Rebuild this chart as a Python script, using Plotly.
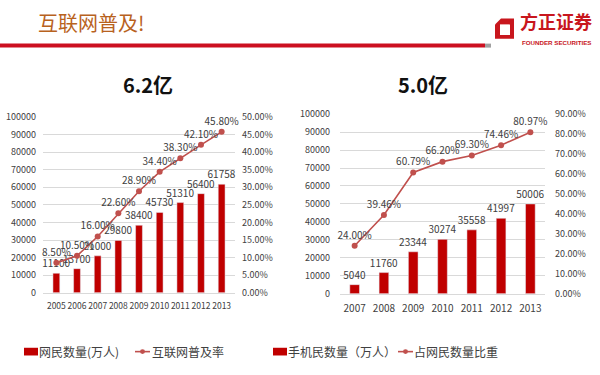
import plotly.graph_objects as go

# ---------------- data ----------------
years_net = ["2005", "2006", "2007", "2008", "2009", "2010", "2011", "2012", "2013"]
netizens = [11100, 13700, 21000, 29800, 38400, 45730, 51310, 56400, 61758]
penetration = [0.085, 0.105, 0.160, 0.226, 0.289, 0.344, 0.383, 0.421, 0.458]

years_mob = ["2007", "2008", "2009", "2010", "2011", "2012", "2013"]
mobile_users = [5040, 11760, 23344, 30274, 35558, 41997, 50006]
mobile_share = [0.2400, 0.3946, 0.6079, 0.6620, 0.6930, 0.7446, 0.8097]

page_title = "互联网普及!"
left_title = "6.2亿"
right_title = "5.0亿"
name_net = "网民数量(万人)"
name_pen = "互联网普及率"
name_mob = "手机民数量（万人）"
name_share = "占网民数量比重"

W, H = 600, 375
FONT = "Noto Sans CJK SC"
BAR_C = "#C00000"
LINE_C = "#C0504D"
TXT = "#404040"
GRID = "#D9D9D9"


def X(px):
    return px / W


def Y(py):
    return (H - py) / H


def pct_labels(vals):
    return [f"{v*100:.2f}%" for v in vals]


fig = go.Figure()

fig.add_trace(go.Bar(
    x=years_net, y=netizens, name=name_net, marker_color=BAR_C,
    text=[str(v) for v in netizens], textposition="outside",
    textfont=dict(size=10, color=TXT, family=FONT), cliponaxis=False,
    constraintext="none", xaxis="x", yaxis="y",
))
fig.add_trace(go.Scatter(
    x=years_net, y=penetration, name=name_pen, mode="lines+markers+text",
    line=dict(color=LINE_C, width=1.6), marker=dict(size=6, color=LINE_C),
    text=pct_labels(penetration), textposition="top center",
    textfont=dict(size=10, color=TXT, family=FONT), cliponaxis=False,
    xaxis="x", yaxis="y2",
))
fig.add_trace(go.Bar(
    x=years_mob, y=mobile_users, name=name_mob, marker_color=BAR_C,
    text=[str(v) for v in mobile_users], textposition="outside",
    textfont=dict(size=10, color=TXT, family=FONT), cliponaxis=False,
    constraintext="none", xaxis="x2", yaxis="y3",
))
fig.add_trace(go.Scatter(
    x=years_mob, y=mobile_share, name=name_share, mode="lines+markers+text",
    line=dict(color=LINE_C, width=1.6), marker=dict(size=6, color=LINE_C),
    text=pct_labels(mobile_share), textposition="top center",
    textfont=dict(size=10, color=TXT, family=FONT), cliponaxis=False,
    xaxis="x2", yaxis="y4",
))

tick_font = dict(size=9, color=TXT, family=FONT)
ly = [Y(296), Y(114)]
ry = [Y(297), Y(111)]

fig.update_layout(
    width=W, height=H, margin=dict(l=0, r=0, t=0, b=0),
    paper_bgcolor="white", plot_bgcolor="white",
    font=dict(family=FONT, color=TXT),
    bargap=0.67, showlegend=False,
    xaxis=dict(domain=[X(43), X(235)], anchor="y", type="category",
               showgrid=False, showline=True, linecolor=GRID, ticks="",
               tickangle=0, ticklabelstandoff=5,
               tickfont=dict(size=8.5, color=TXT, family=FONT)),
    yaxis=dict(domain=ly, anchor="x", range=[0, 100000], dtick=10000,
               tickformat="d", gridcolor=GRID, zeroline=False, ticks="",
               ticklabelstandoff=6, tickfont=tick_font),
    yaxis2=dict(anchor="x", overlaying="y", side="right", range=[0, 0.5],
                dtick=0.05, tickformat=".2%", showgrid=False, zeroline=False,
                ticks="", ticklabelstandoff=6, tickfont=tick_font),
    xaxis2=dict(domain=[X(340), X(545)], anchor="y3", type="category",
                showgrid=False, showline=True, linecolor=GRID, ticks="",
                tickangle=0, ticklabelstandoff=5,
                tickfont=dict(size=10, color=TXT, family=FONT)),
    yaxis3=dict(domain=ry, anchor="x2", range=[0, 100000], dtick=10000,
                tickformat="d", gridcolor=GRID, zeroline=False, ticks="",
                ticklabelstandoff=9, tickfont=tick_font),
    yaxis4=dict(anchor="x2", overlaying="y3", side="right", range=[0, 0.9],
                dtick=0.1, tickformat=".2%", showgrid=False, zeroline=False,
                ticks="", ticklabelstandoff=9, tickfont=tick_font),
)

LEG_Y = 357
leg_font = dict(size=12, color=TXT, family=FONT)
annotations = [
    dict(text=page_title, x=X(37), y=Y(16), xanchor="left", yanchor="middle",
         font=dict(size=20, color="#B8621E", family=FONT)),
    dict(text=f"<b>{left_title}</b>", x=X(148), y=Y(80), xanchor="center",
         yanchor="middle", font=dict(size=20, color="#111111", family=FONT)),
    dict(text=f"<b>{right_title}</b>", x=X(423), y=Y(80), xanchor="center",
         yanchor="middle", font=dict(size=20, color="#111111", family=FONT)),
    dict(text="<b>方正证券</b>", x=X(556), y=Y(15), xanchor="center",
         yanchor="middle", font=dict(size=18, color="#C8161D", family=FONT)),
    dict(text="<b>FOUNDER SECURITIES</b>", x=X(556), y=Y(37), xanchor="center",
         yanchor="middle", font=dict(size=6.2, color="#C8161D", family="Liberation Sans")),
    # manual legend texts
    dict(text=name_net, x=X(38), y=Y(LEG_Y), xanchor="left", yanchor="middle", font=leg_font),
    dict(text=name_pen, x=X(151), y=Y(LEG_Y), xanchor="left", yanchor="middle", font=leg_font),
    dict(text=name_mob, x=X(287), y=Y(LEG_Y), xanchor="left", yanchor="middle", font=leg_font),
    dict(text=name_share, x=X(413), y=Y(LEG_Y), xanchor="left", yanchor="middle", font=leg_font),
]
for a in annotations:
    a.update(xref="paper", yref="paper", showarrow=False)
    a.setdefault("borderpad", 0)
fig.update_layout(annotations=annotations)

logo_path = (f"M {X(495)},{Y(33)} L {X(495)},{Y(18)} L {X(501)},{Y(12)} "
             f"L {X(514)},{Y(12)} L {X(514)},{Y(33)} Z")


def legend_line(x0, x1):
    xc = (x0 + x1) / 2
    return [
        dict(type="line", x0=X(x0), x1=X(x1), y0=Y(LEG_Y), y1=Y(LEG_Y),
             line=dict(color=LINE_C, width=1.6)),
        dict(type="circle", x0=X(xc - 2.5), x1=X(xc + 2.5), y0=Y(LEG_Y + 2.5),
             y1=Y(LEG_Y - 2.5), fillcolor=LINE_C, line=dict(width=0)),
    ]


shapes = [
    dict(type="line", x0=X(0), x1=X(485), y0=Y(40), y1=Y(40),
         line=dict(color="#CC1020", width=4)),
    dict(type="line", x0=X(485), x1=X(491), y0=Y(40), y1=Y(40),
         line=dict(color="#A0A0A0", width=4)),
    dict(type="path", path=logo_path, fillcolor="#C8161D", line=dict(width=0)),
    dict(type="rect", x0=X(500), x1=X(510), y0=Y(29), y1=Y(18),
         fillcolor="white", line=dict(width=0)),
    dict(type="rect", x0=X(24), x1=X(38), y0=Y(LEG_Y + 4), y1=Y(LEG_Y - 4),
         fillcolor=BAR_C, line=dict(width=0)),
    dict(type="rect", x0=X(273), x1=X(287), y0=Y(LEG_Y + 4), y1=Y(LEG_Y - 4),
         fillcolor=BAR_C, line=dict(width=0)),
] + legend_line(135, 150) + legend_line(398, 413)
for s in shapes:
    s.update(xref="paper", yref="paper")
fig.update_layout(shapes=shapes)

fig.write_html(
    "out.html",
    config={"displayModeBar": False},
    post_script="document.body.style.margin='0';document.body.style.overflow='hidden';",
)
